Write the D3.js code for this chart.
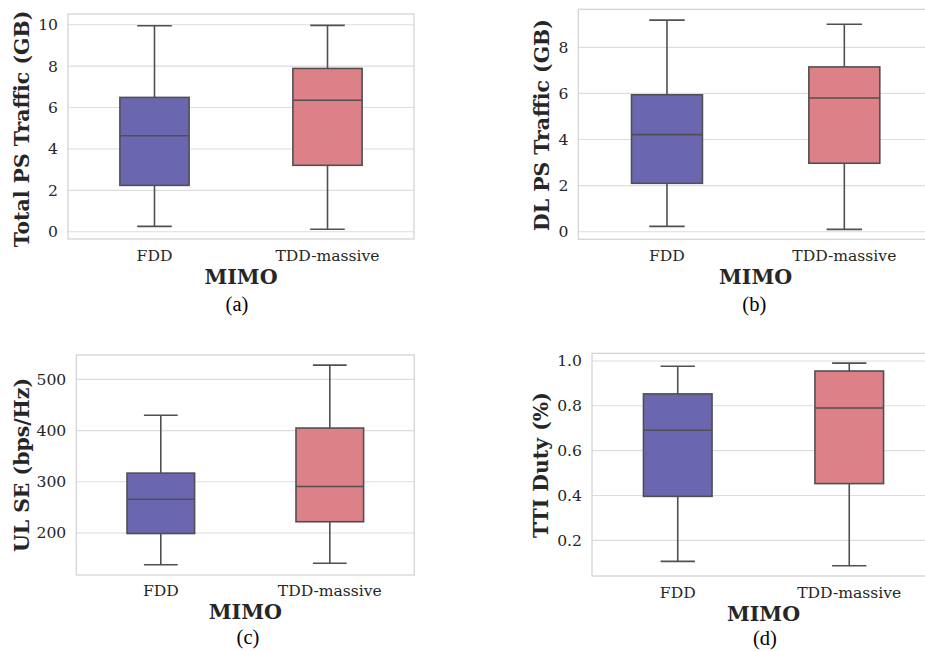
<!DOCTYPE html>
<html><head><meta charset="utf-8">
<script src="https://cdn.jsdelivr.net/npm/d3@7"></script>
<style>body{margin:0;background:#fff}svg{display:block}</style>
</head><body>
<script>
// ---- data ----
const categories = ["FDD", "TDD-massive"];
const boxColors = ["#6a66b0", "#db8187"];
// each box: [lower whisker, Q1, median, Q3, upper whisker]
const totalTrafficBoxes = [[0.26, 2.24, 4.64, 6.49, 9.95], [0.12, 3.21, 6.35, 7.89, 9.97]];
const dlTrafficBoxes = [[0.23, 2.10, 4.21, 5.94, 9.18], [0.10, 2.97, 5.80, 7.15, 9.00]];
const ulSeBoxes = [[138, 199, 266, 317, 430], [141, 222, 291, 405, 528]];
const ttiDutyBoxes = [[0.106, 0.396, 0.691, 0.853, 0.976], [0.087, 0.453, 0.790, 0.955, 0.990]];
const totalTrafficTicks = [0, 2, 4, 6, 8, 10];
const dlTrafficTicks = [0, 2, 4, 6, 8];
const ulSeTicks = [200, 300, 400, 500];
const ttiDutyTicks = [0.2, 0.4, 0.6, 0.8, 1.0];
const yLabels = ["Total PS Traffic (GB)", "DL PS Traffic (GB)", "UL SE (bps/Hz)", "TTI Duty (%)"];
const xLabel = "MIMO";
const subCaptions = ["(a)", "(b)", "(c)", "(d)"];

const panels = [
  {boxes: totalTrafficBoxes, ticks: totalTrafficTicks, fmt: d3.format("d"), domain: [-0.35, 10.52],
   x0: 68, x1: 414, y0: 14, y1: 239, ylx: 22, yly: 129, tickY: 256, mimoY: 277, capX: 237, capY: 304},
  {boxes: dlTrafficBoxes, ticks: dlTrafficTicks, fmt: d3.format("d"), domain: [-0.33, 9.65],
   x0: 578.3, x1: 933, y0: 9.3, y1: 239.3, ylx: 541.7, yly: 125, tickY: 256, mimoY: 277, capX: 754.3, capY: 304},
  {boxes: ulSeBoxes, ticks: ulSeTicks, fmt: d3.format("d"), domain: [118, 547.7],
   x0: 76.3, x1: 414.3, y0: 355, y1: 575, ylx: 21.7, yly: 465, tickY: 591, mimoY: 611.7, capX: 248, capY: 636.7},
  {boxes: ttiDutyBoxes, ticks: ttiDutyTicks, fmt: d3.format(".1f"), domain: [0.041, 1.034],
   x0: 592, x1: 935, y0: 353.3, y1: 576, ylx: 541, yly: 465, tickY: 592.7, mimoY: 613.3, capX: 765, capY: 638}
];

const W = 925, H = 651;
const svg = d3.select("body").append("svg").attr("width", W).attr("height", H);
const textColor = "#262626";
const lineColor = "#505050";
const serif = "'DejaVu Serif', serif";

panels.forEach((p, i) => {
  const g = svg.append("g");
  const x = d3.scaleBand().domain(categories).range([p.x0, p.x1]).paddingInner(0).paddingOuter(0);
  const y = d3.scaleLinear().domain(p.domain).range([p.y1, p.y0]);
  const bw = x.bandwidth() * 0.4;
  const cw = x.bandwidth() * 0.2;

  // grid
  g.selectAll(".grid").data(p.ticks).join("line")
    .attr("x1", p.x0).attr("x2", p.x1)
    .attr("y1", d => y(d)).attr("y2", d => y(d))
    .attr("stroke", "#dddddd").attr("stroke-width", 1.1);

  // frame
  g.append("rect").attr("x", p.x0).attr("y", p.y0)
    .attr("width", p.x1 - p.x0).attr("height", p.y1 - p.y0)
    .attr("fill", "none").attr("stroke", "#d3d3d3").attr("stroke-width", 1.25);

  // y tick labels
  g.selectAll(".yt").data(p.ticks).join("text")
    .attr("x", p.x0 - 10).attr("y", d => y(d)).attr("dy", "0.35em")
    .attr("text-anchor", "end").attr("font-family", serif).attr("font-size", 15.6)
    .attr("fill", textColor).text(d => p.fmt(d));

  // x tick labels
  g.selectAll(".xt").data(categories).join("text")
    .attr("x", d => x(d) + x.bandwidth() / 2).attr("y", p.tickY).attr("dy", "0.35em")
    .attr("text-anchor", "middle").attr("font-family", serif).attr("font-size", 15.6)
    .attr("fill", textColor).text(d => d);

  // boxes
  categories.forEach((c, j) => {
    const [lo, q1, med, q3, hi] = p.boxes[j];
    const cx = x(c) + x.bandwidth() / 2;
    const bg = g.append("g").attr("stroke", lineColor).attr("stroke-width", 1.6);
    bg.append("line").attr("x1", cx).attr("x2", cx).attr("y1", y(hi)).attr("y2", y(q3));
    bg.append("line").attr("x1", cx).attr("x2", cx).attr("y1", y(q1)).attr("y2", y(lo));
    bg.append("line").attr("x1", cx - cw / 2).attr("x2", cx + cw / 2).attr("y1", y(hi)).attr("y2", y(hi));
    bg.append("line").attr("x1", cx - cw / 2).attr("x2", cx + cw / 2).attr("y1", y(lo)).attr("y2", y(lo));
    bg.append("rect").attr("x", cx - bw / 2).attr("width", bw)
      .attr("y", y(q3)).attr("height", y(q1) - y(q3)).attr("fill", boxColors[j]);
    bg.append("line").attr("x1", cx - bw / 2).attr("x2", cx + bw / 2).attr("y1", y(med)).attr("y2", y(med));
  });

  // axis labels
  g.append("text").attr("transform", `translate(${p.ylx},${p.yly}) rotate(-90)`)
    .attr("dy", "0.35em").attr("text-anchor", "middle")
    .attr("font-family", serif).attr("font-weight", "bold").attr("font-size", 20.4)
    .attr("fill", textColor).text(yLabels[i]);
  g.append("text").attr("x", (p.x0 + Math.min(p.x1, 935)) / 2).attr("y", p.mimoY).attr("dy", "0.35em")
    .attr("text-anchor", "middle").attr("font-family", serif).attr("font-weight", "bold").attr("font-size", 20.6)
    .attr("fill", textColor).text(xLabel);
  g.append("text").attr("x", p.capX).attr("y", p.capY).attr("dy", "0.35em")
    .attr("text-anchor", "middle").attr("font-family", "'Liberation Serif', 'Times New Roman', serif")
    .attr("font-size", 20.5).attr("fill", "#000").text(subCaptions[i]);
});
</script>
</body></html>
